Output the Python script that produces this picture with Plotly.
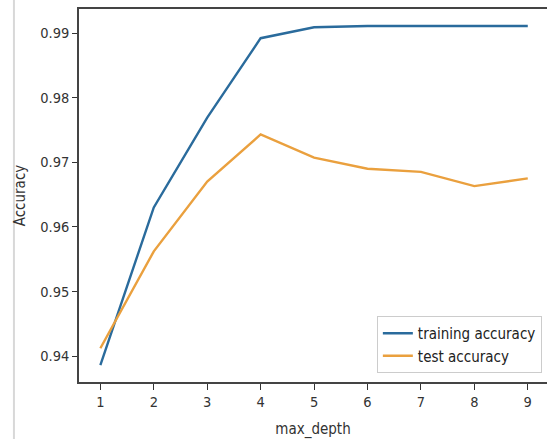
import plotly.graph_objects as go

max_depth = [1, 2, 3, 4, 5, 6, 7, 8, 9]
training_accuracy = [0.9386, 0.9630, 0.9769, 0.9892, 0.9909, 0.9911, 0.9911, 0.9911, 0.9911]
test_accuracy = [0.9412, 0.9562, 0.9670, 0.9743, 0.9707, 0.9690, 0.9685, 0.9663, 0.9675]
y_ticks = [0.94, 0.95, 0.96, 0.97, 0.98, 0.99]

FONT = "DejaVu Sans Condensed, DejaVu Sans, sans-serif"

fig = go.Figure()
fig.add_trace(go.Scatter(x=max_depth, y=training_accuracy, mode="lines",
                         name="training accuracy",
                         line=dict(color="#2a6b9c", width=2.4)))
fig.add_trace(go.Scatter(x=max_depth, y=test_accuracy, mode="lines",
                         name="test accuracy",
                         line=dict(color="#eaa03e", width=2.4)))

fig.update_layout(
    width=547, height=439,
    margin=dict(l=79, r=0, t=9, b=57, autoexpand=False),
    paper_bgcolor="white", plot_bgcolor="white",
    font=dict(family=FONT, size=14.5, color="#333333"),
    showlegend=True,
    legend=dict(x=0.989, y=0.024, xanchor="right", yanchor="bottom",
                bgcolor="rgba(255,255,255,0.9)", bordercolor="#cccccc", borderwidth=1,
                itemwidth=30,
                font=dict(size=15, color="#222222"), tracegroupgap=0),
    xaxis=dict(range=[0.6, 9.36], tickvals=max_depth, ticks="outside", ticklen=6,
               tickwidth=1, tickcolor="#333333", showgrid=False, zeroline=False,
               showline=True, linecolor="#444444", linewidth=1.5, mirror=True,
               automargin=False,
               title=dict(text="max_depth", font=dict(size=15), standoff=14)),
    yaxis=dict(range=[0.93598, 0.99372], tickvals=y_ticks,
               ticktext=[f"{v:.2f}" for v in y_ticks], ticks="outside", ticklen=5,
               tickwidth=1, tickcolor="#333333", showgrid=False, zeroline=False,
               showline=True, linecolor="#444444", linewidth=1.5, mirror=True,
               automargin=False,
               title=dict(text="Accuracy", font=dict(size=15), standoff=11)),
    shapes=[dict(type="line", xref="paper", yref="paper", x0=-0.139, x1=-0.139,
                 y0=-0.153, y1=1.024, line=dict(color="#d8d8d8", width=2))],
)

fig.write_html("out.html", config={"displayModeBar": False},
               post_script="document.body.style.margin='0';document.body.style.overflow='hidden';")
